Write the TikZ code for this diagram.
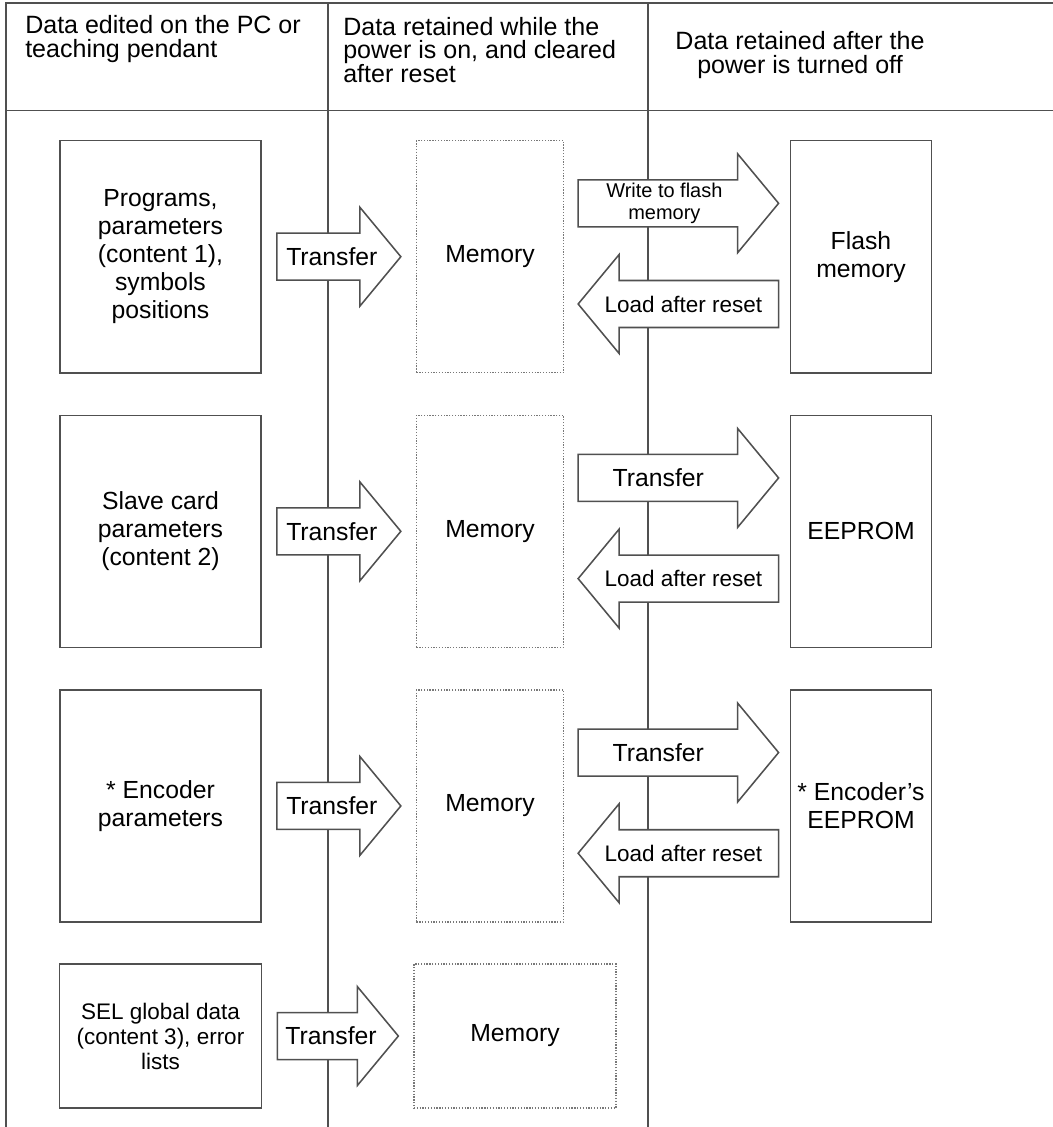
\documentclass[tikz,border=0pt]{standalone}
\usepackage{fontspec}
\setmainfont{Liberation Sans}
\usepackage{xcolor}
\usetikzlibrary{positioning, calc}
\definecolor{linegray}{RGB}{80,80,80}
\definecolor{dotgray}{RGB}{120,120,120}
\tikzstyle{databox} = [rectangle, draw=linegray, line width=1.1pt, minimum width=5.025cm, minimum height=5.8cm, text centered, align=center, inner sep=0pt, font=\fontsize{17.6}{19.9}\selectfont]
\tikzstyle{membox} = [rectangle, draw=dotgray, line width=0.9pt, dash pattern=on 0.9pt off 1.1pt, minimum width=3.675cm, minimum height=5.8cm, align=center, inner sep=0pt, font=\fontsize{17.6}{19.9}\selectfont]
\tikzstyle{keepbox} = [databox, minimum width=3.53cm]
\tikzstyle{fatarrow} = [draw=linegray, fill=white, line width=1.1pt, line join=miter]
\tikzstyle{frame} = [draw=linegray, line width=1.1pt]
\tikzstyle{head} = [inner sep=0pt, font=\fontsize{17.8}{16.8}\selectfont]
\tikzstyle{lbl} = [inner sep=0pt, align=center, font=\fontsize{17.6}{19.9}\selectfont]
% block arrow: tail, tip
\newcommand{\blockarrow}[2]{%
  \draw[fatarrow] ($(#1)+(0,-23.5)$) -- ($(#2)!1.025cm!(#1)+(0,-23.5)$) -- ($(#2)!1.025cm!(#1)+(0,-49.5)$) -- (#2) -- ($(#2)!1.025cm!(#1)+(0,49.5)$) -- ($(#2)!1.025cm!(#1)+(0,23.5)$) -- ($(#1)+(0,23.5)$) -- cycle;}

\begin{document}
\begin{tikzpicture}[x=0.025cm, y=-0.025cm, node distance=1.025cm]
	\useasboundingbox (0,0) rectangle (1053,1127);
	% frame and columns
	\draw[frame, line width=1.8pt] (6,1127) -- (6,3) -- (1053,3);
	\draw[frame] (6,110.7) -- (1053,110.7);
	\draw[frame] (328,3) -- (328,1127);
	\draw[frame] (648,3) -- (648,1127);
	
	\node (head1) [head, anchor=west, align=left] at (25,39) {Data edited on the PC or\\teaching pendant};
	\node (head2) [head, anchor=west, align=left] at (343,50) {Data retained while the\\power is on, and cleared\\after reset};
	\node (head3) [head, align=center] at (800,55) {Data retained after the\\power is turned off};
	
	% left column
	\node (prog) [databox] at (160.5,256.7) {Programs,\\parameters\\(content 1),\\symbols\\positions};
	\node (slave) [databox, below=of prog] {Slave card\\parameters\\(content 2)};
	\node (enc) [databox, below=of slave] {* Encoder\\parameters};
	\node (sel) [databox, below=1.0125cm of enc, minimum width=5.05cm, minimum height=3.6cm, font=\fontsize{16}{17.8}\selectfont] {SEL global data\\(content 3), error\\lists};
	
	% memory
	\node (mem1) [membox, right=3.85cm of prog] {Memory};
	\node (mem2) [membox, right=3.85cm of slave] {Memory};
	\node (mem3) [membox, right=3.85cm of enc] {Memory};
	\node (mem4) [membox, right=3.775cm of sel, minimum width=5.05cm, minimum height=3.6cm] {Memory};
	
	% retained
	\node (flash) [keepbox, right=5.635cm of mem1] {Flash\\memory};
	\node (eep) [keepbox, right=5.635cm of mem2] {EEPROM};
	\node (enceep) [keepbox, right=5.635cm of mem3] {* Encoder’s\\EEPROM};
	
	% transfer arrows
	\foreach \src/\dst [count=\i] in {prog/mem1, slave/mem2, enc/mem3, sel/mem4} {
		\coordinate (ta\i) at ($(\src.east)+(15,0)$);
		\coordinate (tb\i) at ($(\dst.west)+(-15,0)$);
		\blockarrow{ta\i}{tb\i}
		\node (tl\i) [lbl] at ($(ta\i)!0.444!(tb\i)$) {Transfer};
	}
	
	% write and load arrows
	\foreach \mem/\keep [count=\i] in {mem1/flash, mem2/eep, mem3/enceep} {
		\coordinate (wa\i) at ($(\mem.east)+(14,-53.4)$);
		\coordinate (wb\i) at ($(\keep.west)+(-11,-53.4)$);
		\coordinate (la\i) at ($(\keep.west)+(-11,47.3)$);
		\coordinate (lb\i) at ($(\mem.east)+(14,47.3)$);
		\blockarrow{wa\i}{wb\i}
		\blockarrow{la\i}{lb\i}
		\node (ll\i) [lbl, font=\fontsize{16}{18}\selectfont] at ($(la\i)!0.475!(lb\i)$) {Load after reset};
	}
	\node (wl1) [lbl, font=\fontsize{14.2}{16.1}\selectfont] at ($(wa1)!0.43!(wb1)$) {Write to flash\\memory};
	\node (wl2) [lbl] at ($(wa2)!0.40!(wb2)$) {Transfer};
	\node (wl3) [lbl] at ($(wa3)!0.40!(wb3)$) {Transfer};
	
\end{tikzpicture}
\end{document}
